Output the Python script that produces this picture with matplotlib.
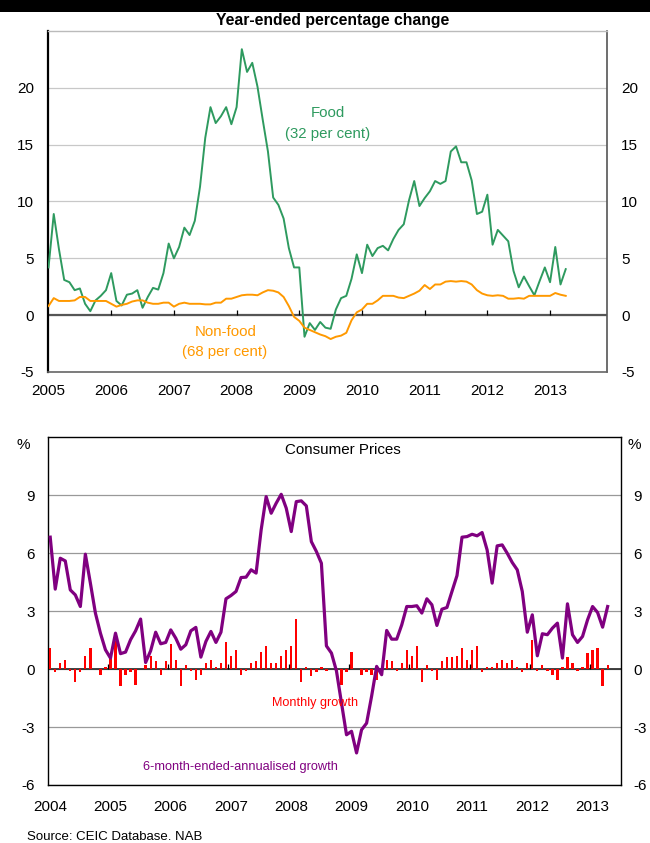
import matplotlib
matplotlib.use("Agg")
import matplotlib.pyplot as plt
from matplotlib.patches import Rectangle
import numpy as np

plt.rcParams['font.family'] = ['Liberation Sans', 'DejaVu Sans']
plt.rcParams['axes.unicode_minus'] = False

# ---------------- data ----------------
# Top panel: year-ended % change, monthly from Jan 2005 to Apr 2013
food = [4.2, 8.9, 5.8, 3.1, 2.9, 2.2, 2.35, 1.0, 0.35, 1.3, 1.7, 2.2,
        3.7, 1.25, 0.85, 1.8, 1.9, 2.2, 0.65, 1.6, 2.4, 2.25, 3.7, 6.3,
        5.0, 6.0, 7.7, 7.05, 8.3, 11.3, 15.6, 18.3, 16.9, 17.5, 18.3, 16.8,
        18.3, 23.4, 21.4, 22.2, 20.1, 17.2, 14.4, 10.35, 9.7, 8.5, 5.9, 4.2,
        4.2, -1.9, -0.7, -1.3, -0.6, -1.1, -1.2, 0.5, 1.5, 1.7, 3.2, 5.35,
        3.7, 6.2, 5.2, 5.9, 6.1, 5.7, 6.7, 7.5, 8.0, 10.1, 11.8, 9.6,
        10.3, 10.9, 11.8, 11.55, 11.8, 14.4, 14.85, 13.45, 13.45, 11.85, 8.9, 9.1,
        10.6, 6.2, 7.5, 7.0, 6.5, 3.9, 2.45, 3.4, 2.55, 1.75, 3.0, 4.2,
        2.9, 6.0, 2.7, 4.05]
nonfood = [0.8, 1.5, 1.25, 1.25, 1.25, 1.3, 1.6, 1.6, 1.25, 1.25, 1.25, 1.25,
           1.0, 0.75, 0.9, 1.0, 1.2, 1.3, 1.3, 1.1, 1.0, 1.0, 1.1, 1.1,
           0.75, 1.0, 1.1, 1.0, 1.0, 1.0, 0.95, 0.95, 1.1, 1.1, 1.45, 1.45,
           1.6, 1.75, 1.8, 1.8, 1.75, 2.0, 2.2, 2.15, 2.0, 1.6, 0.8, -0.15,
           -0.5, -1.1, -1.3, -1.5, -1.7, -1.85, -2.1, -1.9, -1.8, -1.55, -0.45, 0.25,
           0.5, 1.0, 1.0, 1.3, 1.7, 1.7, 1.7, 1.55, 1.5, 1.7, 1.9, 2.15,
           2.65, 2.3, 2.7, 2.7, 2.95, 3.0, 2.95, 3.0, 2.95, 2.7, 2.2, 1.9,
           1.75, 1.7, 1.75, 1.7, 1.45, 1.45, 1.5, 1.45, 1.7, 1.7, 1.7, 1.7,
           1.7, 1.95, 1.8, 1.7]
top_years = ['2005', '2006', '2007', '2008', '2009', '2010', '2011', '2012', '2013']

# Bottom panel: consumer prices, monthly from Jan 2004 to Apr 2013
monthly_growth = [1.1, -0.17, 0.34, 0.48, -0.12, -0.69, -0.17, 0.69, 1.1, 0.0,
                  -0.33, 0.1, 0.55, 1.48, -0.9, -0.33, -0.17, -0.8, 0.0, 0.22,
                  0.69, 0.43, -0.33, 0.43, 1.31, 0.48, -0.9, 0.22, -0.12, -0.55,
                  -0.33, 0.34, 0.48, 0.12, 0.34, 1.41, 0.69, 1.0, -0.33, -0.12,
                  0.34, 0.43, 0.9, 1.2, 0.34, 0.34, 0.69, 1.0, 1.2, 2.6,
                  -0.69, 0.12, -0.38, -0.17, 0.12, -0.12, 0.0, -0.17, -0.8, -0.17,
                  0.9, 0.0, -0.33, -0.17, -0.33, -0.55, 0.0, 0.48, 0.43, -0.12,
                  0.34, 1.0, 0.69, 1.2, -0.69, 0.22, -0.12, -0.59, 0.43, 0.64,
                  0.64, 0.69, 1.1, 0.48, 1.0, 1.2, -0.17, 0.12, 0.12, 0.34,
                  0.48, 0.34, 0.48, 0.12, -0.17, 0.34, 1.52, -0.12, 0.22, -0.12,
                  -0.33, -0.59, 0.12, 0.64, 0.34, -0.12, 0.12, 0.84, 1.0, 1.1,
                  -0.9, 0.22]
six_month_ann = [6.83, 4.14, 5.74, 5.6, 4.1, 3.84, 3.24, 5.95, 4.45, 2.9,
                 1.86, 1.0, 0.57, 1.86, 0.8, 0.88, 1.52, 1.98, 2.59, 0.34,
                 0.95, 1.91, 1.31, 1.38, 2.03, 1.6, 1.03, 1.26, 1.98, 2.16,
                 0.62, 1.43, 1.95, 1.38, 1.91, 3.64, 3.81, 4.02, 4.74, 4.76,
                 5.14, 4.97, 7.2, 8.93, 8.07, 8.59, 9.05, 8.33, 7.12, 8.67,
                 8.71, 8.45, 6.6, 6.09, 5.48, 1.2, 0.83, -0.1, -1.75, -3.4,
                 -3.22, -4.34, -3.14, -2.8, -1.4, 0.14, -0.29, 2.0, 1.55, 1.55,
                 2.29, 3.24, 3.24, 3.28, 2.9, 3.64, 3.33, 2.26, 3.1, 3.19,
                 4.02, 4.84, 6.83, 6.86, 6.98, 6.9, 7.07, 6.17, 4.45, 6.38,
                 6.43, 6.0, 5.52, 5.14, 4.02, 1.91, 2.81, 0.69, 1.83, 1.78,
                 2.12, 2.38, 0.57, 3.38, 1.78, 1.38, 1.69, 2.55, 3.24, 2.93,
                 2.17, 3.24]
bottom_years = ['2004', '2005', '2006', '2007', '2008', '2009', '2010', '2011', '2012', '2013']

# ---------------- figure ----------------
W, H = 650, 843
fig = plt.figure(figsize=(W / 100, H / 100), dpi=100)

def fx(px):
    return px / W

def fy(py):
    return 1 - py / H

fig.add_artist(Rectangle((0, fy(12)), 1, 12 / H, transform=fig.transFigure,
                         facecolor='black', edgecolor='none'))

FS = 11
GREEN = '#2e9a5f'
ORANGE = '#ff9900'
PURPLE = '#800080'
RED = '#ff0000'

# ---------- top panel ----------
ax1 = fig.add_axes([fx(48), fy(372), (607 - 48) / W, (372 - 31) / H])
mt = np.arange(len(food))
ax1.plot(mt, food, color=GREEN, lw=1.4, zorder=3)
ax1.plot(mt, nonfood, color=ORANGE, lw=1.4, zorder=3)
ax1.set_xlim(-0.1, 106.9)
ax1.set_ylim(-5, 25)
ax1.set_yticks([-5, 0, 5, 10, 15, 20])
ax1.yaxis.grid(True, color='#c8c8c8', lw=0.9)
ax1.set_axisbelow(True)
ax1.axhline(0, color='#555555', lw=1.6, zorder=2)
xt1 = np.arange(len(top_years)) * 12
ax1.set_xticks(xt1)
ax1.set_xticklabels(top_years)
ax1.vlines(xt1[1:], 0, 0.45, color='black', lw=0.9, zorder=4)
ax1.tick_params(axis='x', length=0, pad=8.5, labelsize=FS)
ax1.tick_params(axis='y', which='both', length=0, labelsize=FS, left=True, right=True,
                labelleft=True, labelright=True)
ax1.tick_params(axis='y', which='both', pad=10, labelleft=True)
for t in ax1.yaxis.get_major_ticks():
    t.set_pad(10)
ax1.yaxis.set_tick_params(which='major', pad=10)
ax1.spines['left'].set_color('black')
ax1.spines['left'].set_linewidth(1.6)
ax1.spines['right'].set_color('#555555')
ax1.spines['right'].set_linewidth(1.2)
ax1.spines['bottom'].set_color('#666666')
ax1.spines['bottom'].set_linewidth(1.2)
ax1.spines['top'].set_color('#bbbbbb')
ax1.spines['top'].set_linewidth(1.0)

fig.text(fx(333), fy(20), 'Year-ended percentage change', ha='center', va='center',
         fontsize=11.3, fontweight='bold')
fig.text(fx(328), fy(113), 'Food', ha='center', va='center', fontsize=10.8, color=GREEN)
fig.text(fx(328), fy(134), '(32 per cent)', ha='center', va='center', fontsize=10.8, color=GREEN)
fig.text(fx(226), fy(332), 'Non-food', ha='center', va='center', fontsize=10.8, color=ORANGE)
fig.text(fx(225), fy(352), '(68 per cent)', ha='center', va='center', fontsize=10.8, color=ORANGE)

# ---------- bottom panel ----------
ax2 = fig.add_axes([fx(47.7), fy(785), (620.7 - 47.7) / W, (785 - 437.3) / H])
mb = np.arange(len(six_month_ann))
ax2.bar(mb, monthly_growth, width=0.45, color=RED, zorder=3)
ax2.plot(mb, six_month_ann, color=PURPLE, lw=2.3, zorder=4)
ax2.set_xlim(-0.5, 113.6)
ax2.set_ylim(-6, 12)
ax2.set_yticks([-6, -3, 0, 3, 6, 9])
ax2.yaxis.grid(True, color='#999999', lw=0.9)
ax2.set_axisbelow(True)
ax2.axhline(0, color='#333333', lw=1.3, zorder=2)
xt2 = np.arange(len(bottom_years)) * 12
ax2.set_xticks(xt2)
ax2.set_xticklabels(bottom_years)
ax2.vlines(xt2[1:] - 0.5, 0, 0.26, color='black', lw=0.9, zorder=5)
ax2.tick_params(axis='x', length=0, pad=10.5, labelsize=FS)
ax2.tick_params(axis='y', length=0, labelsize=FS, left=True, right=True,
                labelleft=True, labelright=True, pad=9.2)
for sp in ax2.spines.values():
    sp.set_color('black')
    sp.set_linewidth(1.0)

fig.text(fx(23), fy(445), '%', ha='center', va='center', fontsize=FS)
fig.text(fx(634), fy(445), '%', ha='center', va='center', fontsize=FS)
fig.text(fx(343), fy(450), 'Consumer Prices', ha='center', va='center', fontsize=10.9)
fig.text(fx(315), fy(703), 'Monthly growth', ha='center', va='center', fontsize=9.1, color=RED)
fig.text(fx(240), fy(767), '6-month-ended-annualised growth', ha='center', va='center',
         fontsize=9.2, color=PURPLE)

fig.text(fx(27), fy(837), 'Source: CEIC Database. NAB', ha='left', va='center', fontsize=9.5)

fig.savefig('out.png', dpi=100)
